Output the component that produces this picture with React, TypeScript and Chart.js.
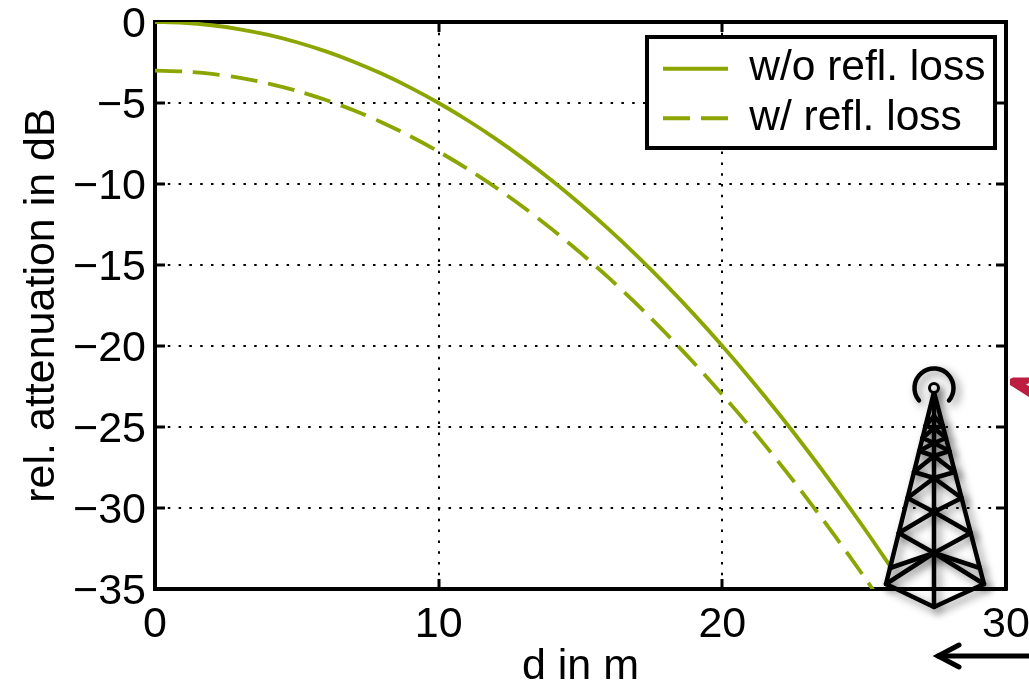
import React, { useEffect, useRef } from "react";
import { Chart, registerables } from "chart.js";

Chart.register(...registerables);

const distance = [0,1,2,3,4,5,6,7,8,9,10,11,12,13,14,15,16,17,18,19,20,21,22,23,24,25,26];
const withoutLoss = [0,-0.05,-0.2,-0.45,-0.8,-1.25,-1.8,-2.45,-3.2,-4.05,-5,-6.05,-7.2,-8.45,-9.8,-11.25,-12.8,-14.45,-16.2,-18.05,-20,-22.05,-24.2,-26.45,-28.8,-31.25,-33.8];
const withLoss = [-3,-3.05,-3.2,-3.45,-3.8,-4.25,-4.8,-5.45,-6.2,-7.05,-8,-9.05,-10.2,-11.45,-12.8,-14.25,-15.8,-17.45,-19.2,-21.05,-23,-25.05,-27.2,-29.45,-31.8,-34.25,-36.8];
const seriesLabels = ["w/o refl. loss", "w/ refl. loss"];
const xTitle = "d in m";
const yTitle = "rel. attenuation in dB";

const GREEN = "#8ca500";
const FONT = "'Liberation Sans', Arial, sans-serif";
const FS = 43;
const LEGEND_FS = 42.5;

const line = (c: CanvasRenderingContext2D, pts: number[][]) => {
  c.beginPath();
  pts.forEach((p, i) => (i ? c.lineTo(p[0], p[1]) : c.moveTo(p[0], p[1])));
  c.stroke();
};

const legendFrame = { left: 647, top: 37, right: 995, bottom: 148 };

const legendPlacer = {
  id: "legendPlacer",
  beforeDraw(chart: any) {
    const l = chart.legend;
    if (!l) return;
    l.left = 656;
    l.right = legendFrame.right;
    l.top = 40.5;
    l.bottom = legendFrame.bottom;
    l.width = l.right - l.left;
    l.height = l.bottom - l.top;
  },
  beforeDatasetsDraw(chart: any) {
    const c = chart.ctx;
    const f = legendFrame;
    c.save();
    c.fillStyle = "#fff";
    c.strokeStyle = "#000";
    c.lineWidth = 4;
    c.fillRect(f.left, f.top, f.right - f.left, f.bottom - f.top);
    c.strokeRect(f.left, f.top, f.right - f.left, f.bottom - f.top);
    c.restore();
    chart.legend.draw();
  },
};

const decorations = {
  id: "decorations",
  afterDraw(chart: any) {
    const c: CanvasRenderingContext2D = chart.ctx;
    c.save();
    c.fillStyle = "#bb1e3f";
    c.beginPath();
    c.moveTo(1010, 379);
    c.lineTo(1013, 377.5);
    c.lineTo(1029, 377.5);
    c.lineTo(1029, 383);
    c.lineTo(1026, 384.5);
    c.lineTo(1029, 386);
    c.lineTo(1029, 397);
    c.lineTo(1010, 385);
    c.closePath();
    c.fill();
    c.strokeStyle = "#000";
    c.lineWidth = 5;
    c.lineCap = "round";
    line(c, [[1029, 656], [938, 656]]);
    line(c, [[959, 645], [938, 656], [959, 667]]);
    c.lineJoin = "round";
    c.shadowColor = "rgba(0,0,0,0.45)";
    c.shadowBlur = 9;
    c.shadowOffsetX = 4;
    c.shadowOffsetY = 4;
    const cx = 934;
    const L = (y: number) => cx - ((y - 392) / (584 - 392)) * 48;
    const R = (y: number) => cx + ((y - 392) / (584 - 392)) * 50;
    c.lineWidth = 4.5;
    c.beginPath();
    c.arc(cx, 388, 19.5, Math.PI * 0.78, Math.PI * 0.22);
    c.stroke();
    line(c, [[L(584), 584], [cx, 392], [R(584), 584]]);
    line(c, [[cx, 392], [cx, 607]]);
    line(c, [[L(584), 584], [cx, 607], [R(584), 584]]);
    line(c, [[L(584), 584], [cx, 553], [R(584), 584]]);
    line(c, [[L(568), 568], [cx, 553], [R(568), 568]]);
    const rungs = [[533, 512], [498, 478], [472, 456], [451, 443], [438, 428], [426, 416]];
    let prev = 553;
    rungs.forEach(([legY, mid]) => {
      line(c, [[L(legY), legY], [cx, prev], [R(legY), legY]]);
      line(c, [[L(legY), legY], [cx, mid], [R(legY), legY]]);
      prev = mid;
    });
    c.lineWidth = 3;
    c.fillStyle = "#fff";
    c.beginPath();
    c.arc(cx, 388, 4.5, 0, Math.PI * 2);
    c.fill();
    c.stroke();
    c.restore();
  },
};

export default function App() {
  const ref = useRef<HTMLCanvasElement>(null);
  useEffect(() => {
    const xBase = { type: "linear", min: 0, max: 30 };
    const yBase = { type: "linear", min: -35, max: 0 };
    const tickGrid = { color: "#000", tickColor: "#000", tickWidth: 3, tickLength: -10, tickBorderDash: [], lineWidth: 2 };
    const border = { color: "#000", width: 4, dash: [2.5, 8.3] };
    const chart = new Chart(ref.current as HTMLCanvasElement, {
      type: "line",
      data: {
        datasets: [
          { label: seriesLabels[0], data: distance.map((d, i) => ({ x: d, y: withoutLoss[i] })), borderColor: GREEN, backgroundColor: GREEN, borderWidth: 3.8, pointRadius: 0, tension: 0.3 },
          { label: seriesLabels[1], data: distance.map((d, i) => ({ x: d, y: withLoss[i] })), borderColor: GREEN, backgroundColor: GREEN, borderWidth: 3.8, borderDash: [27, 11], pointRadius: 0, tension: 0.3 },
        ],
      },
      options: {
        responsive: false,
        animation: false,
        devicePixelRatio: 1,
        layout: { padding: { top: 22, right: 23, left: 0, bottom: 0 } },
        plugins: {
          tooltip: { enabled: false },
          legend: {
            position: "chartArea",
            align: "start",
            labels: {
              usePointStyle: true,
              pointStyle: "line",
              pointStyleWidth: 65,
              boxHeight: 3,
              padding: 7,
              color: "#000",
              font: { family: FONT, size: LEGEND_FS },
              generateLabels: (ch: any) =>
                (Chart.defaults as any).plugins.legend.labels
                  .generateLabels(ch)
                  .map((item: any, i: number) => ({ ...item, lineDash: ch.data.datasets[i].borderDash || [] })),
            },
          },
        },
        scales: {
          x: {
            ...xBase, position: "bottom", grid: tickGrid, border,
            ticks: { stepSize: 10, color: "#000", font: { family: FONT, size: FS }, padding: 20, maxRotation: 0, autoSkip: false },
            title: { display: true, text: xTitle, color: "#000", font: { family: FONT, size: FS }, padding: { top: 0, bottom: -10 } },
            afterFit(s: any) { s.height = 94; s.paddingLeft = 0; s.paddingRight = 0; },
          },
          y: {
            ...yBase, position: "left", grid: tickGrid, border,
            ticks: { stepSize: 5, color: "#000", font: { family: FONT, size: FS }, padding: 19, labelOffset: 3, autoSkip: false, callback: (v: any) => (v < 0 ? "\u2212" + Math.abs(v) : String(v)) },
            title: { display: true, text: yTitle, color: "#000", font: { family: FONT, size: FS }, padding: { top: 16, bottom: 0 } },
            afterFit(s: any) { s.width = 155; s.paddingTop = 0; s.paddingBottom = 0; },
          },
          x2: {
            ...xBase, position: "top", grid: { ...tickGrid, drawOnChartArea: false }, border,
            ticks: { stepSize: 10, display: false },
            afterFit(s: any) { s.height = 0; s.paddingLeft = 0; s.paddingRight = 0; },
          },
          y2: {
            ...yBase, position: "right", grid: { ...tickGrid, drawOnChartArea: false }, border,
            ticks: { stepSize: 5, display: false },
            afterFit(s: any) { s.width = 0; s.paddingTop = 0; s.paddingBottom = 0; },
          },
        },
      } as any,
      plugins: [legendPlacer, decorations],
    } as any);
    return () => chart.destroy();
  }, []);
  return (
    <div style={{ position: "absolute", left: 0, top: 0, width: 1029, height: 683, overflow: "hidden", background: "#fff" }}>
      <canvas ref={ref} width={1029} height={683} style={{ display: "block", filter: "blur(0.5px)" }} />
    </div>
  );
}
